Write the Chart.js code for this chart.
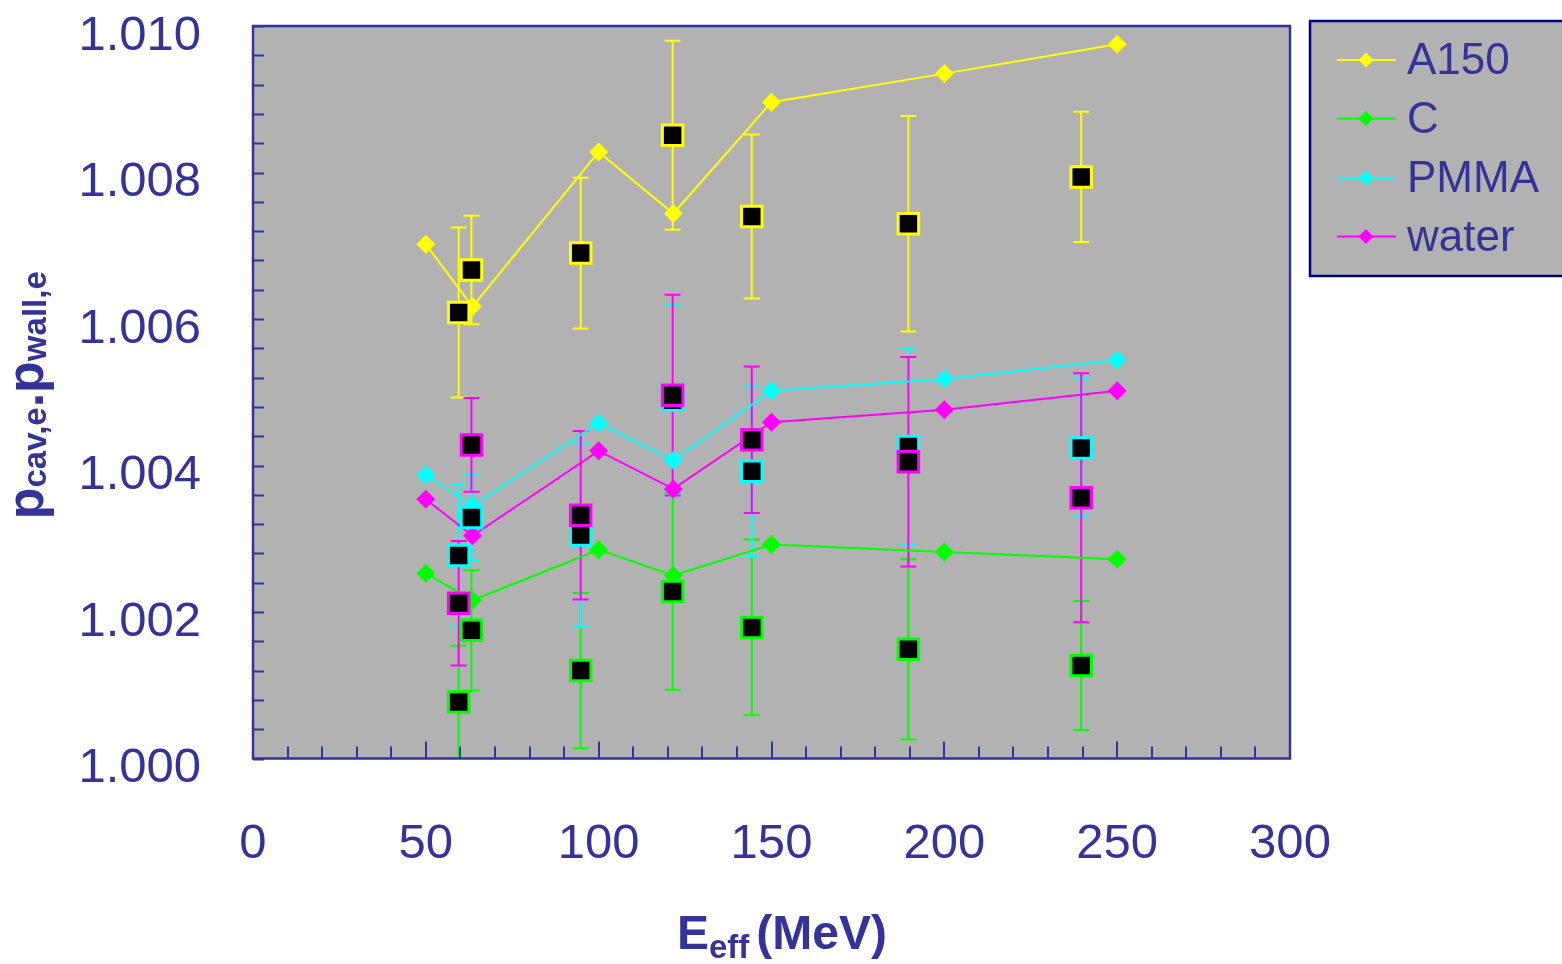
<!DOCTYPE html>
<html>
<head>
<meta charset="utf-8">
<title>p_cav,e . p_wall,e vs E_eff</title>
<script src="https://cdn.jsdelivr.net/npm/chart.js@4.4.1/dist/chart.umd.min.js"></script>
<style>
  html, body { margin: 0; padding: 0; background: #fff; }
  canvas { display: block; }
</style>
</head>
<body>
<canvas id="myChart" width="1562" height="964"></canvas>
<script>
// =========================================================
// Data
const seriesNames = ['A150', 'C', 'PMMA', 'water'];
const seriesColors = ['#ffff00', '#00ff00', '#00ffff', '#ff00ff'];

// calculated curves (diamonds + line)
const lineEnergies = [50, 63.5, 100, 121.6, 150, 200, 250];
const lineA150 = [1.00702, 1.00617, 1.00828, 1.00744, 1.00896, 1.00935, 1.00975];
const lineC = [1.00253, 1.00216, 1.00285, 1.00250, 1.00292, 1.00282, 1.00272];
const linePMMA = [1.00387, 1.00345, 1.00458, 1.00407, 1.00502, 1.00518, 1.00544];
const lineWater = [1.00354, 1.00304, 1.00420, 1.00368, 1.00459, 1.00476, 1.00502];

// measured points (black squares with error bars)
const pointEnergies = [59.5, 63.2, 94.8, 121.4, 144.3, 189.6, 239.6];
const pointA150 = [1.00609, 1.00667, 1.00690, 1.00851, 1.00740, 1.00730, 1.00794];
const pointC = [1.00077, 1.00175, 1.00120, 1.00228, 1.00179, 1.00149, 1.00127];
const pointPMMA = [1.00277, 1.00329, 1.00305, 1.00489, 1.00392, 1.00426, 1.00424];
const pointWater = [1.00212, 1.00428, 1.00332, 1.00496, 1.00435, 1.00405, 1.00356];

const errA150 = [0.00116, 0.00074, 0.00103, 0.00129, 0.00112, 0.00147, 0.00089];
const errC = [0.00077, 0.00082, 0.00106, 0.00134, 0.00120, 0.00123, 0.00088];
const errPMMA = [0.00097, 0.00058, 0.00125, 0.00130, 0.00116, 0.00133, 0.00094];
const errWater = [0.00085, 0.00064, 0.00115, 0.00137, 0.00100, 0.00143, 0.00170];

// axes
const xMin = 0, xMax = 300, xStep = 50, xMinorStep = 10;
const yMin = 1.000, yMax = 1.010, yStep = 0.002, yMinorStep = 0.0004;

// =======================
// Style
// =======================
const axisColor = '#333399';
const plotBg = '#b2b2b2';
const fontFamily = 'Arial, "Liberation Sans", Helvetica, sans-serif';
Chart.defaults.font.family = fontFamily;

const lineSeries = [lineA150, lineC, linePMMA, lineWater];
const pointSeries = [pointA150, pointC, pointPMMA, pointWater];
const errSeries = [errA150, errC, errPMMA, errWater];

const lineDatasets = seriesNames.map((name, i) => ({
  type: 'line',
  label: name,
  data: lineEnergies.map((x, j) => ({ x: x, y: lineSeries[i][j] })),
  borderColor: seriesColors[i],
  backgroundColor: seriesColors[i],
  borderWidth: 2,
  pointStyle: 'rectRot',
  pointRadius: 9.5,
  pointBorderWidth: 0,
  pointBackgroundColor: seriesColors[i],
  showLine: true,
  tension: 0,
  order: 2
}));

const pointDatasets = seriesNames.map((name, i) => ({
  type: 'scatter',
  label: name + ' measured',
  data: pointEnergies.map((x, j) => ({ x: x, y: pointSeries[i][j] })),
  errors: errSeries[i],
  borderColor: seriesColors[i],
  backgroundColor: '#000',
  pointStyle: 'rect',
  pointRadius: 14.5,
  pointBorderWidth: 3,
  showLine: false,
  order: 1 - i * 0.1
}));

// =======================
// Plugins
// =======================
const plotFrame = {
  id: 'plotFrame',
  beforeDraw(chart) {
    const { ctx, chartArea: a } = chart;
    ctx.save();
    ctx.fillStyle = plotBg;
    ctx.fillRect(a.left, a.top, a.right - a.left, a.bottom - a.top);
    ctx.restore();
  },
  beforeDatasetsDraw(chart) {
    const { ctx, chartArea: a, scales } = chart;
    // error bars, under the markers
    ctx.save();
    ctx.beginPath();
    ctx.rect(a.left, a.top, a.right - a.left, a.bottom - a.top);
    ctx.clip();
    ctx.lineWidth = 2;
    chart.data.datasets.forEach(ds => {
      if (!ds.errors) return;
      ctx.strokeStyle = ds.borderColor;
      ds.data.forEach((p, j) => {
        const px = scales.x.getPixelForValue(p.x);
        const yHi = scales.y.getPixelForValue(p.y + ds.errors[j]);
        const yLo = scales.y.getPixelForValue(p.y - ds.errors[j]);
        ctx.beginPath();
        ctx.moveTo(px, yHi); ctx.lineTo(px, yLo);
        ctx.moveTo(px - 8, yHi); ctx.lineTo(px + 8, yHi);
        ctx.moveTo(px - 8, yLo); ctx.lineTo(px + 8, yLo);
        ctx.stroke();
      });
    });
    ctx.restore();
  },
  afterDraw(chart) {
    const { ctx, chartArea: a, scales } = chart;
    ctx.save();
    // frame
    ctx.strokeStyle = axisColor;
    ctx.lineWidth = 2.5;
    ctx.strokeRect(a.left, a.top, a.right - a.left, a.bottom - a.top);

    // inward tick marks
    ctx.lineWidth = 2;
    ctx.beginPath();
    for (let v = yMin; v <= yMax + 1e-9; v += yMinorStep) {
      const py = Math.round(scales.y.getPixelForValue(v)) + 0.5;
      ctx.moveTo(a.left, py); ctx.lineTo(a.left + 11, py);
    }
    for (let v = xMin + xMinorStep; v < xMax; v += xMinorStep) {
      const px = Math.round(scales.x.getPixelForValue(v));
      const len = (Math.abs(v % xStep) < 1e-6) ? 17 : 12;
      ctx.moveTo(px, a.bottom); ctx.lineTo(px, a.bottom - len);
    }
    ctx.stroke();

    // y title: p_cav,e . p_wall,e (rotated)
    const parts = [
      { t: 'p', size: 52, dy: 0 },
      { t: 'cav,e', size: 33, dy: 3 },
      { t: '.', size: 52, dy: 0 },
      { t: 'p', size: 52, dy: 0 },
      { t: 'wall,e', size: 33, dy: 3 }
    ];
    ctx.fillStyle = axisColor;
    ctx.textBaseline = 'alphabetic';
    ctx.textAlign = 'left';
    let total = 0;
    parts.forEach(p => {
      ctx.font = 'bold ' + p.size + 'px ' + fontFamily;
      p.w = ctx.measureText(p.t).width;
      total += p.w;
    });
    ctx.save();
    ctx.translate(43, (a.top + a.bottom) / 2 + 3);
    ctx.rotate(-Math.PI / 2);
    let cx = -total / 2;
    parts.forEach(p => {
      ctx.font = 'bold ' + p.size + 'px ' + fontFamily;
      ctx.fillText(p.t, cx, p.dy);
      cx += p.w;
    });
    ctx.restore();

    // x title: E_eff (MeV)
    const xParts = [
      { t: 'E', size: 48, dy: 0, gap: 0 },
      { t: 'eff', size: 33, dy: 9, gap: 7 },
      { t: '(MeV)', size: 48, dy: 0, gap: 0 }
    ];
    total = 0;
    xParts.forEach(p => {
      ctx.font = 'bold ' + p.size + 'px ' + fontFamily;
      p.w = ctx.measureText(p.t).width + p.gap;
      total += p.w;
    });
    cx = 782 - total / 2;
    xParts.forEach(p => {
      ctx.font = 'bold ' + p.size + 'px ' + fontFamily;
      ctx.fillText(p.t, cx, 949 + p.dy);
      cx += p.w;
    });

    // legend box
    const lx = 1310, ly = 21, lh = 255;
    ctx.fillStyle = plotBg;
    ctx.fillRect(lx, ly, 270, lh);
    ctx.strokeStyle = '#000080';
    ctx.lineWidth = 2.5;
    ctx.strokeRect(lx, ly, 270, lh);
    const rowY = [60, 118.5, 178, 236.5];
    seriesNames.forEach((name, i) => {
      const y = rowY[i];
      ctx.strokeStyle = seriesColors[i];
      ctx.fillStyle = seriesColors[i];
      ctx.lineWidth = 2;
      ctx.beginPath();
      ctx.moveTo(1337, y); ctx.lineTo(1396, y);
      ctx.stroke();
      ctx.beginPath();
      ctx.moveTo(1366, y - 7.5); ctx.lineTo(1373.5, y);
      ctx.lineTo(1366, y + 7.5); ctx.lineTo(1358.5, y);
      ctx.closePath();
      ctx.fill();
      ctx.fillStyle = axisColor;
      ctx.font = '44px ' + fontFamily;
      ctx.textBaseline = 'middle';
      ctx.fillText(name, 1407, y + 2);
    });
    ctx.restore();
  }
};

// =======================
// Chart Configuration
// =======================
const ctx = document.getElementById('myChart').getContext('2d');

new Chart(ctx, {
  data: {
    datasets: [...pointDatasets, ...lineDatasets]
  },
  options: {
    responsive: false,
    animation: false,
    layout: {
      padding: { left: 0, right: 272, top: 26, bottom: 0 }
    },
    plugins: {
      legend: { display: false },
      tooltip: { enabled: false },
      title: { display: false }
    },
    scales: {
      x: {
        type: 'linear',
        min: xMin,
        max: xMax,
        grid: { display: false, drawTicks: false },
        border: { display: false },
        ticks: {
          stepSize: xStep,
          color: axisColor,
          padding: 57,
          font: { size: 49 }
        },
        afterFit(scale) {
          scale.height = 205.5;
          scale.paddingLeft = 0;
          scale.paddingRight = 0;
        }
      },
      y: {
        type: 'linear',
        min: yMin,
        max: yMax,
        grid: { display: false, drawTicks: false },
        border: { display: false },
        ticks: {
          stepSize: yStep,
          color: axisColor,
          padding: 52,
          labelOffset: 10,
          font: { size: 49 },
          callback: v => Number(v).toFixed(3)
        },
        afterFit(scale) {
          scale.width = 253;
          scale.paddingTop = 0;
          scale.paddingBottom = 0;
        }
      }
    }
  },
  plugins: [plotFrame]
});
</script>
</body>
</html>
